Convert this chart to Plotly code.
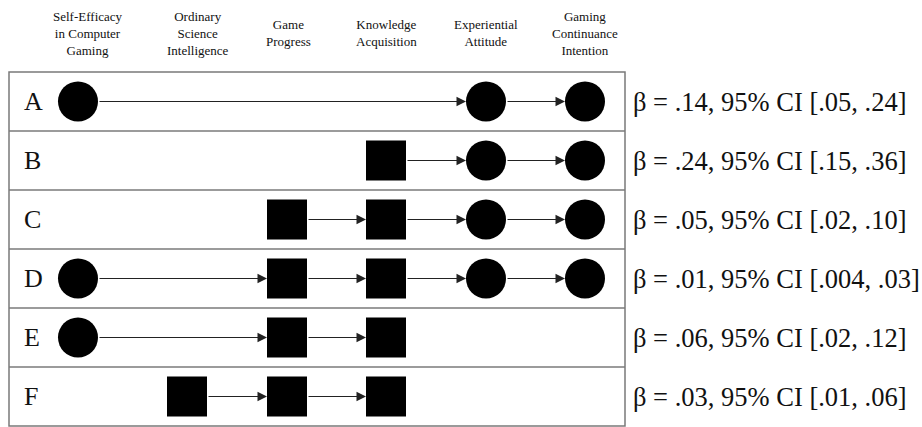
import plotly.graph_objects as go

# ---------------- data ----------------
variables = [
    "Self-Efficacy<br>in Computer<br>Gaming",
    "Ordinary<br>Science<br>Intelligence",
    "Game<br>Progress",
    "Knowledge<br>Acquisition",
    "Experiential<br>Attitude",
    "Gaming<br>Continuance<br>Intention",
]
var_kind = ["circle", "square", "square", "square", "circle", "circle"]

rows = ["A", "B", "C", "D", "E", "F"]
paths = [
    [0, 4, 5],
    [3, 4, 5],
    [2, 3, 4, 5],
    [0, 2, 3, 4, 5],
    [0, 2, 3],
    [1, 2, 3],
]
beta = [".14", ".24", ".05", ".01", ".06", ".03"]
ci_low = [".05", ".15", ".02", ".004", ".02", ".01"]
ci_high = [".24", ".36", ".10", ".03", ".12", ".06"]

# ---------------- layout constants ----------------
W, H = 922, 427
node_x = [78, 187, 287, 386, 486, 585]      # node centres (px)
header_x = [88, 198, 288, 386, 486, 585]    # header label centres (px)
NODE = 40                                   # node diameter / side
BOX_L, BOX_R = 9, 625
ROW_TOP, ROW_H = 72, 59
y_top = -ROW_TOP / ROW_H - 0.5
y_bot = (H - ROW_TOP) / ROW_H - 0.5
header_y = (33 - ROW_TOP) / ROW_H - 0.5
FONT = "Liberation Serif"
INK = "#111111"
GRID = "#7a7a7a"

fig = go.Figure()

# nodes
for kind in ["circle", "square"]:
    xs, ys = [], []
    for r, path in enumerate(paths):
        for v in path:
            if var_kind[v] == kind:
                xs.append(node_x[v])
                ys.append(r)
    fig.add_trace(go.Scatter(
        x=xs, y=ys, mode="markers", hoverinfo="skip", showlegend=False,
        marker=dict(symbol=kind, size=NODE, color="black", line=dict(width=0)),
    ))

annotations = []
# arrows
for r, path in enumerate(paths):
    for a, b in zip(path[:-1], path[1:]):
        annotations.append(dict(
            x=node_x[b] - NODE / 2, y=r, xref="x", yref="y",
            ax=node_x[a] + NODE / 2, ay=r, axref="x", ayref="y",
            text="", showarrow=True, arrowhead=2, arrowsize=1.9,
            arrowwidth=1, arrowcolor="#222222", standoff=0, startstandoff=0,
        ))

# row letters and effect texts
for r, lab in enumerate(rows):
    annotations.append(dict(
        x=22, y=r, xref="x", yref="y", text=lab, showarrow=False,
        xanchor="left", yanchor="middle",
        font=dict(family=FONT, size=26, color=INK),
    ))
    annotations.append(dict(
        x=631, y=r, xref="x", yref="y",
        text=f"β = {beta[r]}, 95% CI [{ci_low[r]}, {ci_high[r]}]",
        showarrow=False, xanchor="left", yanchor="middle",
        font=dict(family=FONT, size=26.5, color=INK),
    ))

# headers
for v, name in enumerate(variables):
    annotations.append(dict(
        x=header_x[v], y=header_y, xref="x", yref="y", text=name,
        showarrow=False, xanchor="center", yanchor="middle",
        font=dict(family=FONT, size=13, color=INK),
    ))

# box and dividers
shapes = [dict(type="rect", xref="x", yref="y", x0=BOX_L, x1=BOX_R,
               y0=-0.5, y1=len(rows) - 0.5, line=dict(color=GRID, width=1.5),
               layer="below")]
for r in range(1, len(rows)):
    shapes.append(dict(type="line", xref="x", yref="y", x0=BOX_L, x1=BOX_R,
                       y0=r - 0.5, y1=r - 0.5, line=dict(color=GRID, width=1.5),
                       layer="below"))

fig.update_layout(
    width=W, height=H, autosize=False,
    margin=dict(l=0, r=0, t=0, b=0),
    paper_bgcolor="white", plot_bgcolor="white",
    font=dict(family=FONT),
    xaxis=dict(range=[0, W], visible=False, fixedrange=True),
    yaxis=dict(range=[y_bot, y_top], visible=False, fixedrange=True),
    annotations=annotations, shapes=shapes,
)

fig.write_html("out.html")
